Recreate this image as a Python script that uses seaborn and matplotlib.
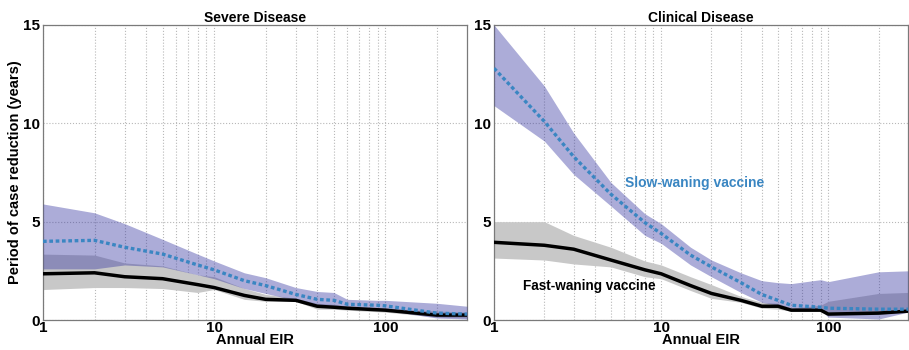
import matplotlib
matplotlib.use("Agg")
import matplotlib.pyplot as plt
import seaborn as sns
import numpy as np
import pandas as pd
from matplotlib.ticker import FixedLocator, NullFormatter

eir = [1, 2, 3, 5, 8, 10, 15, 20, 30, 40, 50, 60, 90, 100, 200, 300]

sev_slow_med = [4.0, 4.05, 3.7, 3.35, 2.8, 2.55, 2.0, 1.75, 1.3, 1.05, 1.0, 0.8, 0.75, 0.72, 0.35, 0.3]
sev_slow_hi = [5.9, 5.45, 4.9, 4.1, 3.35, 3.0, 2.4, 2.15, 1.65, 1.45, 1.4, 1.05, 1.0, 1.0, 0.85, 0.7]
sev_slow_lo = [2.6, 2.6, 2.8, 2.7, 2.3, 2.1, 1.6, 1.35, 1.0, 0.75, 0.7, 0.6, 0.5, 0.5, 0.1, 0.05]
sev_fast_med = [2.35, 2.4, 2.2, 2.1, 1.8, 1.65, 1.25, 1.05, 1.0, 0.7, 0.65, 0.6, 0.52, 0.5, 0.25, 0.25]
sev_fast_hi = [3.35, 3.3, 2.9, 2.75, 2.3, 2.2, 1.6, 1.3, 1.1, 0.85, 0.8, 0.7, 0.62, 0.6, 0.45, 0.4]
sev_fast_lo = [1.55, 1.65, 1.65, 1.6, 1.4, 1.55, 1.05, 0.95, 0.95, 0.55, 0.55, 0.5, 0.42, 0.4, 0.15, 0.1]

cli_slow_med = [12.8, 10.1, 8.3, 6.4, 4.95, 4.4, 3.3, 2.7, 1.9, 1.3, 1.0, 0.75, 0.65, 0.6, 0.55, 0.55]
cli_slow_hi = [15.0, 11.9, 9.5, 7.0, 5.4, 4.9, 3.7, 3.05, 2.4, 2.0, 1.9, 1.85, 2.05, 1.95, 2.45, 2.5]
cli_slow_lo = [10.9, 9.1, 7.4, 5.8, 4.3, 3.9, 2.8, 2.2, 1.4, 0.9, 0.75, 0.6, 0.5, 0.15, 0.05, 0.4]
cli_fast_med = [3.95, 3.8, 3.6, 3.05, 2.55, 2.35, 1.75, 1.35, 1.0, 0.7, 0.7, 0.5, 0.5, 0.3, 0.35, 0.45]
cli_fast_hi = [5.0, 5.0, 4.3, 3.7, 3.0, 2.8, 2.2, 1.8, 1.2, 0.9, 0.85, 0.6, 0.75, 0.95, 1.35, 1.4]
cli_fast_lo = [3.15, 3.05, 2.85, 2.7, 2.2, 2.1, 1.5, 1.1, 0.9, 0.6, 0.55, 0.45, 0.45, 0.3, 0.3, 0.4]

titles = ["Severe Disease", "Clinical Disease"]
xticks = [1, 10, 100]
xtick_labels = ["1", "10", "100"]
yticks = [0, 5, 10, 15]
ytick_labels = ["0", "5", "10", "15"]

sns.set_style("white")
plt.rcParams['font.family'] = ['Liberation Sans', 'DejaVu Sans']
plt.rcParams['font.weight'] = 'bold'
plt.rcParams['text.color'] = 'black'
plt.rcParams['axes.labelcolor'] = 'black'
plt.rcParams['xtick.color'] = 'black'
plt.rcParams['ytick.color'] = 'black'

fig = plt.figure(figsize=(9.09, 3.5), dpi=100)
W, H = 909, 350
ax1 = fig.add_axes([43 / W, 30 / H, (467 - 43) / W, 295 / H])
ax2 = fig.add_axes([494 / W, 30 / H, (908 - 494) / W, 295 / H])

purple = (57 / 255, 57 / 255, 162 / 255)
gray = "#c8c8c8"
blue = "#3a86c2"

panels = [
    (ax1, sev_slow_med, sev_slow_hi, sev_slow_lo, sev_fast_med, sev_fast_hi, sev_fast_lo),
    (ax2, cli_slow_med, cli_slow_hi, cli_slow_lo, cli_fast_med, cli_fast_hi, cli_fast_lo),
]

minor = [2, 3, 4, 5, 6, 7, 8, 9, 20, 30, 40, 50, 60, 70, 80, 90, 200]

for i, (ax, sm, sh, sl, fm, fh, fl) in enumerate(panels):
    df = pd.DataFrame({"EIR": eir, "slow": sm, "fast": fm})
    ax.set_xscale("log")
    ax.fill_between(eir, fl, fh, color=gray, lw=0, zorder=2)
    ax.fill_between(eir, sl, sh, color=purple, alpha=0.42, lw=0, zorder=3)
    sns.lineplot(data=df, x="EIR", y="fast", ax=ax, color="black", lw=2.5, zorder=4)
    sns.lineplot(data=df, x="EIR", y="slow", ax=ax, color=blue, lw=2.4, zorder=5,
                 linestyle=(0, (1.1, 0.8)))
    ax.set_xlim(1, 300)
    ax.set_ylim(0, 15)
    ax.xaxis.set_major_locator(FixedLocator(xticks))
    ax.set_xticklabels(xtick_labels)
    ax.xaxis.set_minor_locator(FixedLocator(minor))
    ax.xaxis.set_minor_formatter(NullFormatter())
    ax.set_yticks(yticks)
    ax.set_yticklabels(ytick_labels)
    ax.grid(True, which="both", axis="x", color="#b8b8b8", ls=":", lw=0.8, zorder=0)
    ax.grid(True, which="major", axis="y", color="#b8b8b8", ls=":", lw=0.8, zorder=0)
    ax.set_axisbelow(True)
    for s in ax.spines.values():
        s.set_color("#7a7a7a")
        s.set_linewidth(0.9)
    ax.tick_params(axis="both", which="both", direction="in", length=3, color="#7a7a7a",
                   labelcolor="black", labelsize=11, pad=1)
    ax.tick_params(axis="y", pad=2)
    ax.tick_params(axis="x", pad=0.5)
    for lab in ax.get_xticklabels() + ax.get_yticklabels():
        lab.set_fontweight("bold")
    ax.set_title(titles[i], fontsize=10, fontweight="bold", pad=2, color="black")
    ax.set_xlabel("Annual EIR", fontsize=10.5, fontweight="bold", labelpad=-1, color="black")
    ax.set_ylabel("")

ax1.set_ylabel("Period of case reduction (years)", fontsize=10.5, fontweight="bold",
               labelpad=1, color="black")

ax2.text(6.1, 6.95, "Slow-waning vaccine", color=blue, fontsize=10, fontweight="bold",
         ha="left", va="center", zorder=6)
ax2.text(1.5, 1.75, "Fast-waning vaccine", color="black", fontsize=9.8, fontweight="bold",
         ha="left", va="center", zorder=6)

fig.savefig("out.png", dpi=100)
